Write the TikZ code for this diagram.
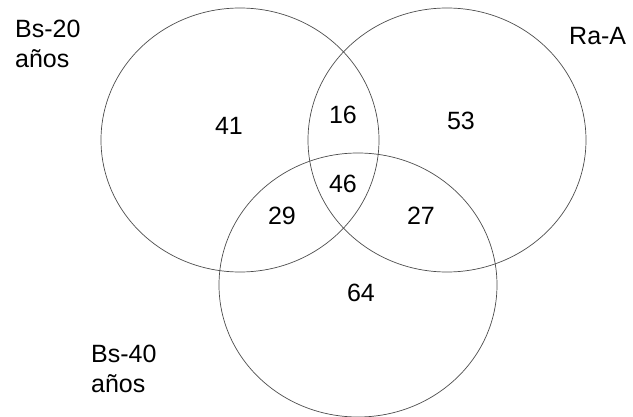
\documentclass[tikz,border=0pt]{standalone}
\usepackage{fontspec}
\setmainfont{Liberation Sans}
\begin{document}
\begin{tikzpicture}[x=1pt,y=-1pt,
  setring/.style={draw=black!70, line width=0.7pt},
  num/.style={inner sep=0pt, font=\fontsize{25}{30}\selectfont},
  lab/.style={inner sep=0pt, align=left, anchor=north west, font=\fontsize{25}{30}\selectfont}]
\useasboundingbox (0,0) rectangle (633,417);
\draw[setring] (240,140) ellipse [x radius=139pt, y radius=132pt];
\draw[setring] (447,140) ellipse [x radius=139pt, y radius=132pt];
\draw[setring] (358,285) ellipse [x radius=139pt, y radius=132pt];
\node[num] (n41) at (229,126) {41};
\node[num] (n16) at (343,115) {16};
\node[num] (n53) at (461,121) {53};
\node[num] (n46) at (343,184) {46};
\node[num] (n29) at (282,216) {29};
\node[num] (n27) at (421,216) {27};
\node[num] (n64) at (361,293) {64};
\node[lab] (la) at (15,20) {Bs-20\\años};
\node[lab] (lb) at (91,345) {Bs-40\\años};
\node[lab] (lc) at (569,27) {Ra-A};
\end{tikzpicture}
\end{document}
